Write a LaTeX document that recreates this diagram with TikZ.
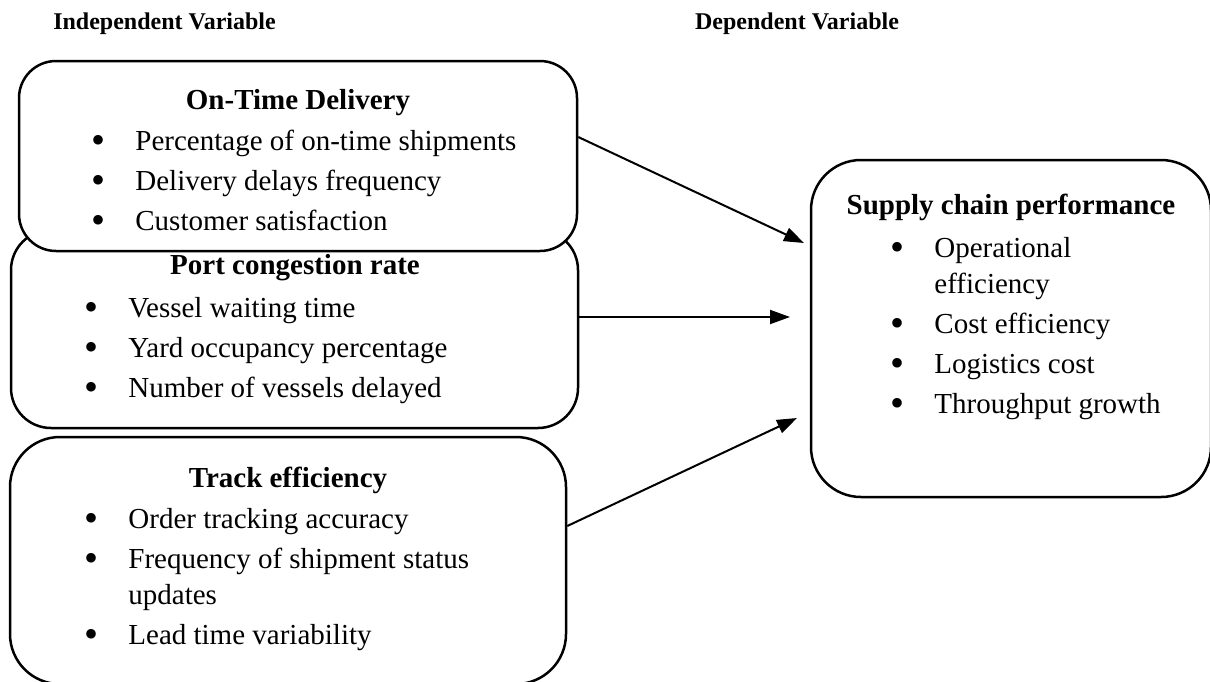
\documentclass[tikz,border=0pt]{standalone}
\usepackage{fontspec}
\setmainfont{Liberation Serif}
\usepackage{tikz}
\usetikzlibrary{positioning,calc,arrows.meta}
\tikzstyle{line} = [draw,line width=1pt]
\newcommand{\bul}{\raisebox{-1.5pt}{\fontsize{20}{20}\selectfont •}}
\newcommand{\itemlist}[1]{\begin{tabular}[t]{@{}l@{\hspace{15pt}}l@{}}#1\end{tabular}}

\begin{document}
\begin{tikzpicture}[x=0.5pt,y=-0.5pt]
    \tikzstyle{box} = [draw, line width=1.25pt, fill=white, inner sep=0pt]
    \tikzstyle{head} = [font=\fontsize{12}{14}\selectfont\bfseries, anchor=base, inner sep=0pt]
    \tikzstyle{ttl} = [font=\fontsize{14.5}{20}\selectfont\bfseries, anchor=base, inner sep=0pt]
    \tikzstyle{lst} = [font=\fontsize{14.5}{20}\selectfont, anchor=base west, inner sep=0pt]
    \tikzstyle{arr} = [line, -{Triangle[length=10pt,width=7pt]}]
    \useasboundingbox (0,0) rectangle (1210,681);

    \node[head] (hind) at (164.5,29) {Independent Variable};
    \node[head] (hdep) at (797,29) {Dependent Variable};

    % boxes, lowest one first so the upper ones cover it
    \node[box, rounded corners=25pt, minimum width=278pt, minimum height=123.5pt] (ivar3) at (288,560.5) {};
    \node[box, rounded corners=20pt, minimum width=283.5pt, minimum height=99pt] (ivar2) at (294.5,329) {};
    \node[box, rounded corners=18.5pt, minimum width=279pt, minimum height=95pt] (ivar1) at (298,156) {};
    \node[box, rounded corners=25pt, minimum width=200pt, minimum height=168.5pt] (dvar) at (1011,328.5) {};

    \node[ttl] (ttl1) at (298,109.5) {On-Time Delivery};
    \node[lst] (lst1) at (91,150) {\itemlist{\bul & Percentage of on-time shipments\\
        \bul & Delivery delays frequency\\
        \bul & Customer satisfaction}};

    \node[ttl] (ttl2) at (295,274.5) {Port congestion rate};
    \node[lst] (lst2) at (84,317) {\itemlist{\bul & Vessel waiting time\\
        \bul & Yard occupancy percentage\\
        \bul & Number of vessels delayed}};

    \node[ttl] (ttl3) at (288,487.5) {Track efficiency};
    \node[lst] (lst3) at (84,528) {\itemlist{\bul & Order tracking accuracy\\
        \bul & Frequency of shipment status\\[-1.75pt]
             & updates\\
        \bul & Lead time variability}};

    \node[ttl] (ttl4) at (1011,214.5) {Supply chain performance};
    \node[lst] (lst4) at (890,257) {\itemlist{\bul & Operational\\[-1.75pt]
             & efficiency\\
        \bul & Cost efficiency\\
        \bul & Logistics cost\\
        \bul & Throughput growth}};

    % arrows
    \coordinate (tip1) at (804,243);
    \coordinate (tip2) at (790,317);
    \coordinate (tip3) at (797,418);
    \path [arr] ([yshift=9.5pt]ivar1.east) -- (tip1);
    \path [arr] ([yshift=6pt]ivar2.east) -- (tip2);
    \path [arr] ([yshift=17.25pt]ivar3.east) -- (tip3);
\end{tikzpicture}
\end{document}
